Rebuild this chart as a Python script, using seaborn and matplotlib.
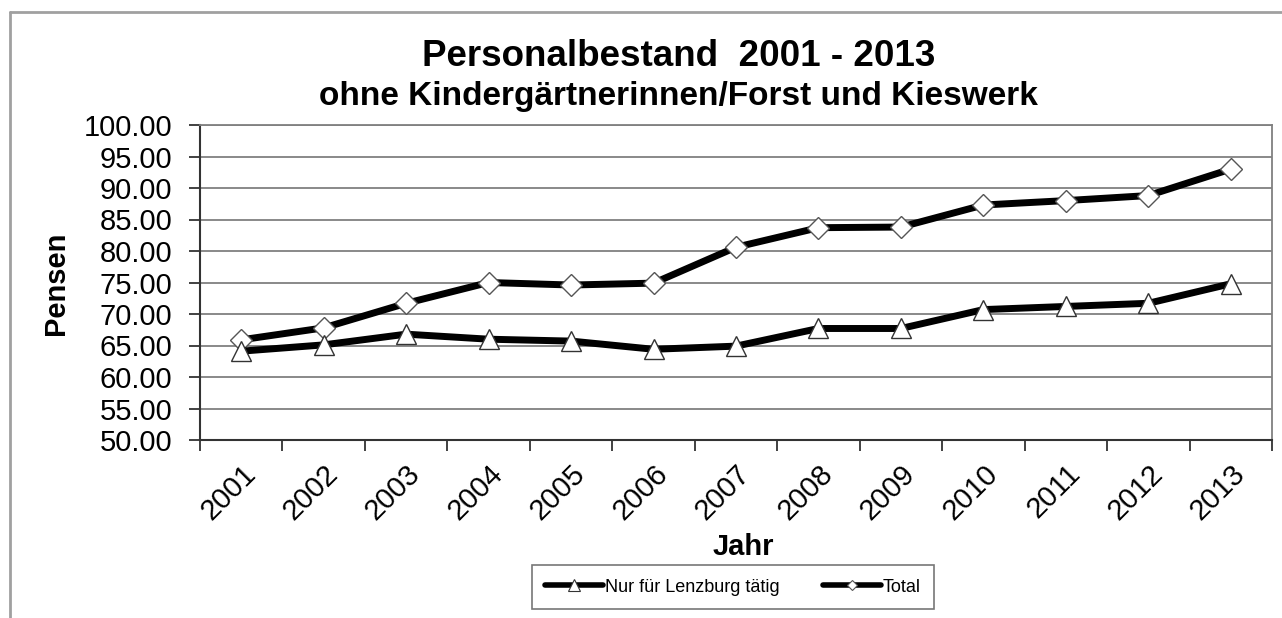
import pandas as pd
import matplotlib.pyplot as plt
import seaborn as sns
from matplotlib.lines import Line2D

# Values
years = ['2001', '2002', '2003', '2004', '2005', '2006', '2007',
         '2008', '2009', '2010', '2011', '2012', '2013']
lenzburg = [64.1, 65.1, 66.8, 66.0, 65.7, 64.4, 64.9,
            67.7, 67.7, 70.7, 71.2, 71.7, 74.8]
total = [65.9, 67.8, 71.7, 75.0, 74.6, 74.9, 80.6,
         83.7, 83.8, 87.3, 88.0, 88.8, 93.0]
y_ticks = [50, 55, 60, 65, 70, 75, 80, 85, 90, 95, 100]

sns.set_theme(style='white')
plt.rcParams['font.family'] = ['Liberation Sans', 'DejaVu Sans']
plt.rcParams['text.color'] = 'black'
plt.rcParams['axes.labelcolor'] = 'black'
plt.rcParams['xtick.color'] = 'black'
plt.rcParams['ytick.color'] = 'black'

df = pd.DataFrame({'pos': range(len(years)), 'year': years,
                   'lenzburg': lenzburg, 'total': total})

fig = plt.figure(figsize=(12.82, 6.18), dpi=100)
ax = fig.add_axes([200 / 1282, 1 - 440 / 618, 1072 / 1282, 315 / 618])

# Horizontal grid lines
for v in y_ticks:
    ax.axhline(v, color='#808080', linewidth=1.3, zorder=0)

# Both series: thick black line with white markers
sns.lineplot(data=df, x='pos', y='total', ax=ax, color='black', linewidth=5,
             marker='D', markersize=11, markerfacecolor='white',
             markeredgecolor='#555555', markeredgewidth=1.0, zorder=3)
sns.lineplot(data=df, x='pos', y='lenzburg', ax=ax, color='black', linewidth=5,
             marker='^', markersize=14, markerfacecolor='white',
             markeredgecolor='#333333', markeredgewidth=1.0, zorder=3)

ax.set_xlim(-0.5, len(years) - 0.5)
ax.set_ylim(50, 100)
ax.set_yticks(y_ticks)
ax.set_yticklabels([f'{v:.2f}' for v in y_ticks], fontsize=21)
ax.set_xticks(range(len(years)))
ax.set_xticklabels(years, fontsize=21, rotation=45, ha='right',
                   rotation_mode='anchor')
ax.set_xticks([i - 0.5 for i in range(len(years) + 1)], minor=True)
ax.tick_params(axis='x', which='major', length=0, pad=14)
ax.tick_params(axis='x', which='minor', length=8, width=1.3, color='#333333',
               direction='out', bottom=True)
ax.tick_params(axis='y', length=8, width=1.3, color='#333333', direction='out',
               left=True, pad=12)

for side in ['top', 'right']:
    ax.spines[side].set_color('#808080')
    ax.spines[side].set_linewidth(1.3)
for side in ['left', 'bottom']:
    ax.spines[side].set_color('#333333')
    ax.spines[side].set_linewidth(1.5)

ax.set_xlabel('Jahr', fontsize=21, fontweight='bold')
ax.set_ylabel('Pensen', fontsize=21, fontweight='bold')
ax.xaxis.set_label_coords((743 - 200) / 1072, (440 - 533) / 315)
ax.yaxis.set_label_coords((70 - 200) / 1072, (440 - 283) / 315)

# Titles
fig.text(679 / 1282, 1 - 56 / 618, 'Personalbestand  2001 - 2013', ha='center',
         va='center', fontsize=26.5, fontweight='bold')
fig.text(678 / 1282, 1 - 97 / 618, 'ohne Kindergärtnerinnen/Forst und Kieswerk',
         ha='center', va='center', fontsize=24, fontweight='bold')

# Legend with small markers
handles = [
    Line2D([], [], color='black', linewidth=4, marker='^', markersize=8,
           markerfacecolor='white', markeredgecolor='#333333', markeredgewidth=0.8),
    Line2D([], [], color='black', linewidth=4, marker='D', markersize=5.5,
           markerfacecolor='white', markeredgecolor='#555555', markeredgewidth=0.8),
]
leg = fig.legend(handles, ['Nur für Lenzburg tätig', 'Total'], ncol=2,
                 loc='center', bbox_to_anchor=(733 / 1282, 1 - 587 / 618),
                 fontsize=13, frameon=True, fancybox=False, handlelength=3.2,
                 handletextpad=0.1, columnspacing=2.4, borderpad=0.75)
leg.get_frame().set_edgecolor('#555555')
leg.get_frame().set_linewidth(1.2)

# Outer chart frame (left and top edges visible)
fig.add_artist(Line2D([10 / 1282, 10 / 1282], [0, 1 - 12 / 618],
                      transform=fig.transFigure, color='#a0a0a0', linewidth=2))
fig.add_artist(Line2D([10 / 1282, 1], [1 - 12 / 618, 1 - 12 / 618],
                      transform=fig.transFigure, color='#a0a0a0', linewidth=2))

fig.savefig('out.png', dpi=100)
